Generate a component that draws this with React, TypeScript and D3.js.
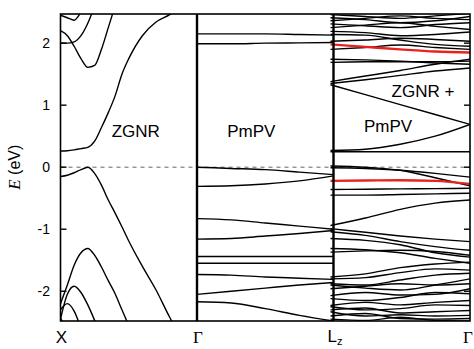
import React from "react";
import * as d3 from "d3";

// k-grids (fraction of each panel) and band energies in eV
const kZgnr = [0, 0.05, 0.1, 0.15, 0.2, 0.25, 0.3, 0.35, 0.4, 0.45, 0.5, 0.6, 0.7, 0.8, 0.9, 1];
const zgnrBands: (number | null)[][] = [
  [0.26, 0.265, 0.28, 0.3, 0.32, 0.42, 0.64, 0.88, 1.15, 1.5, 1.75, 2.12, 2.34, 2.46, 2.62, null],
  [-0.15, -0.13, -0.09, -0.04, 0.0, -0.1, -0.29, -0.53, -0.74, -0.96, -1.19, -1.6, -1.98, -2.42, -2.8, null],
  [2.2, 2.12, 1.95, 1.75, 1.61, 1.64, 1.9, 2.25, 2.6, null, null, null, null, null, null, null],
  [2.0, 2.0, 2.02, 2.12, 2.32, 2.6, null, null, null, null, null, null, null, null, null, null],
  [2.45, 2.41, 2.37, 2.5, 2.7, null, null, null, null, null, null, null, null, null, null, null],
  [-2.2, -1.9, -1.58, -1.38, -1.31, -1.42, -1.61, -1.83, -2.04, -2.3, -2.55, -3.0, null, null, null, null],
  [-2.45, -2.05, -1.92, -2.02, -2.22, -2.47, -2.75, null, null, null, null, null, null, null, null, null],
  [-2.3, -2.2, -2.32, -2.6, null, null, null, null, null, null, null, null, null, null, null, null],
  [-2.44, -2.6, null, null, null, null, null, null, null, null, null, null, null, null, null, null],
];

const kPmpv = [0, 0.25, 0.5, 0.75, 1];
const pmpvBands: number[][] = [
  [2.15, 2.15, 2.15, 2.14, 2.13],
  [1.99, 1.99, 2.0, 2.005, 2.01],
  [0.0, -0.02, -0.04, -0.08, -0.12],
  [-0.31, -0.3, -0.27, -0.22, -0.14],
  [-0.83, -0.85, -0.9, -0.95, -1.0],
  [-1.16, -1.15, -1.11, -1.07, -1.02],
  [-1.44, -1.44, -1.44, -1.44, -1.44],
  [-1.55, -1.55, -1.55, -1.55, -1.55],
  [-1.73, -1.74, -1.77, -1.79, -1.81],
  [-2.05, -2.0, -1.95, -1.9, -1.86],
  [-2.17, -2.19, -2.28, -2.39, -2.48],
];

const kHybrid = [0, 0.25, 0.5, 0.75, 1];
const hybridBands: number[][] = [
  [2.46, 2.43, 2.4, 2.44, 2.48],
  [2.41, 2.38, 2.33, 2.36, 2.43],
  [2.36, 2.4, 2.44, 2.4, 2.38],
  [2.31, 2.28, 2.25, 2.3, 2.33],
  [2.25, 2.29, 2.33, 2.27, 2.22],
  [2.19, 2.17, 2.12, 2.14, 2.18],
  [2.14, 2.13, 2.05, 1.98, 1.95],
  [2.03, 2.05, 2.08, 2.06, 2.03],
  [1.9, 1.93, 1.97, 1.93, 1.9],
  [1.74, 1.73, 1.71, 1.68, 1.66],
  [1.69, 1.7, 1.7, 1.7, 1.71],
  [1.38, 1.47, 1.56, 1.66, 1.74],
  [1.35, 1.41, 1.48, 1.55, 1.6],
  [1.33, 1.17, 1.01, 0.85, 0.69],
  [0.27, 0.29, 0.37, 0.5, 0.69],
  [0.25, 0.25, 0.25, 0.25, 0.25],
  [-0.01, -0.02, -0.05, -0.1, -0.16],
  [0.02, 0.0, -0.05, -0.17, -0.3],
  [-0.36, -0.355, -0.35, -0.345, -0.34],
  [-0.45, -0.45, -0.44, -0.43, -0.42],
  [-0.94, -0.82, -0.68, -0.58, -0.53],
  [-0.99, -1.05, -1.11, -1.16, -1.2],
  [-1.04, -1.1, -1.2, -1.28, -1.34],
  [-1.15, -1.18, -1.25, -1.38, -1.45],
  [-1.31, -1.33, -1.38, -1.47, -1.55],
  [-1.37, -1.35, -1.34, -1.36, -1.42],
  [-1.77, -1.72, -1.62, -1.56, -1.53],
  [-1.8, -1.78, -1.7, -1.64, -1.66],
  [-1.88, -1.9, -1.82, -1.74, -1.71],
  [-1.9, -1.95, -1.98, -1.9, -1.8],
  [-1.96, -1.92, -1.88, -1.9, -1.88],
  [-2.07, -2.02, -2.06, -2.05, -1.96],
  [-2.12, -2.15, -2.1, -2.02, -2.04],
  [-2.23, -2.18, -2.22, -2.18, -2.15],
  [-2.25, -2.3, -2.28, -2.22, -2.23],
  [-2.3, -2.27, -2.35, -2.33, -2.31],
  [-2.33, -2.4, -2.38, -2.4, -2.39],
  [-2.4, -2.36, -2.44, -2.45, -2.44],
  [-2.45, -2.47, -2.42, -2.47, -2.48],
];
const hybridRed: number[][] = [
  [1.98, 1.94, 1.9, 1.865, 1.85],
  [-0.22, -0.215, -0.21, -0.22, -0.27],
];

const yTicks = [-2, -1, 0, 1, 2];
const kPoints = ["X", "Γ", "L", "Γ"];
const panelNames = ["ZGNR", "PmPV"];

const W = 474;
const H = 349;
const left = 60.5;
const right = 470;
const top = 14;
const bottom = 321;

export default function App() {
  const y = d3.scaleLinear().domain([-2.48, 2.47]).range([bottom, top]);
  const x = d3.scaleLinear().domain([0, 3]).range([left, right]);
  // third panel's bands start a few pixels left of the L_z line
  const panels = [
    d3.scaleLinear().domain([0, 1]).range([x(0), x(1)]),
    d3.scaleLinear().domain([0, 1]).range([x(1), x(2)]),
    d3.scaleLinear().domain([0, 1]).range([x(2) - 3, x(3)]),
  ];

  const makePath = (ks: number[], vals: (number | null)[], px: d3.ScaleLinear<number, number>) =>
    d3
      .line<[number, number | null]>()
      .defined((d) => d[1] != null)
      .x((d) => px(d[0]))
      .y((d) => y(d[1] as number))
      .curve(d3.curveMonotoneX)(ks.map((k, i) => [k, vals[i]])) || "";

  const font = "Liberation Sans, Arial, sans-serif";

  return (
    <svg width={W} height={H} style={{ position: "absolute", left: 0, top: 0, background: "#fff" }}>
      <defs>
        <clipPath id="plot">
          <rect x={left} y={top} width={right - left} height={bottom - top} />
        </clipPath>
      </defs>
      <rect width={W} height={H} fill="#fff" />
      <line x1={left} x2={right} y1={y(0)} y2={y(0)} stroke="#555" strokeWidth={0.9} strokeDasharray="4,4" />
      <g clipPath="url(#plot)" fill="none" stroke="#000" strokeWidth={1.4}>
        {zgnrBands.map((b, i) => (
          <path key={"z" + i} d={makePath(kZgnr, b, panels[0])} />
        ))}
        {pmpvBands.map((b, i) => (
          <path key={"p" + i} d={makePath(kPmpv, b, panels[1])} />
        ))}
        {hybridBands.map((b, i) => (
          <path key={"h" + i} d={makePath(kHybrid, b, panels[2])} />
        ))}
        {hybridRed.map((b, i) => (
          <path key={"r" + i} d={makePath(kHybrid, b, panels[2])} stroke="#e8231f" strokeWidth={2.4} />
        ))}
      </g>
      <rect x={left} y={top} width={right - left} height={bottom - top} fill="none" stroke="#000" strokeWidth={1.6} />
      {[1, 2].map((k) => (
        <line key={k} x1={x(k)} x2={x(k)} y1={top} y2={bottom} stroke="#000" strokeWidth={2.4} />
      ))}
      {yTicks.map((t) => (
        <g key={t}>
          <line x1={left} x2={left + 6} y1={y(t)} y2={y(t)} stroke="#000" strokeWidth={1.4} />
          <line x1={right - 6} x2={right} y1={y(t)} y2={y(t)} stroke="#000" strokeWidth={1.4} />
          <text x={50} y={y(t) + 5} textAnchor="end" fontSize={14} fontFamily={font}>
            {t}
          </text>
        </g>
      ))}
      {kPoints.map((lab, i) =>
        lab === "L" ? (
          <text key={i} x={x(i) - 6} y={342} fontSize={17} fontFamily={font}>
            L<tspan dy={3} fontSize={11}>z</tspan>
          </text>
        ) : (
          <text
            key={i}
            x={i === 3 ? x(i) - 2 : x(i) + 1}
            y={343}
            textAnchor="middle"
            fontSize={17}
            fontFamily={lab === "Γ" ? "Liberation Serif, serif" : font}
          >
            {lab}
          </text>
        )
      )}
      <text transform={`translate(20, ${y(0)}) rotate(-90)`} textAnchor="middle" fontSize={16} fontFamily={font}>
        <tspan fontStyle="italic" fontFamily="Liberation Serif, serif" fontSize={17}>E</tspan> (eV)
      </text>
      {panelNames.map((n, i) => (
        <text key={n} x={(x(i) + x(i + 1)) / 2 + (i === 0 ? 7 : -14)} y={137} textAnchor="middle" fontSize={17} fontFamily={font}>
          {n}
        </text>
      ))}
      <text x={423} y={97} textAnchor="middle" fontSize={17} fontFamily={font}>
        ZGNR +
      </text>
      <text x={388} y={132} textAnchor="middle" fontSize={17} fontFamily={font}>
        PmPV
      </text>
    </svg>
  );
}
